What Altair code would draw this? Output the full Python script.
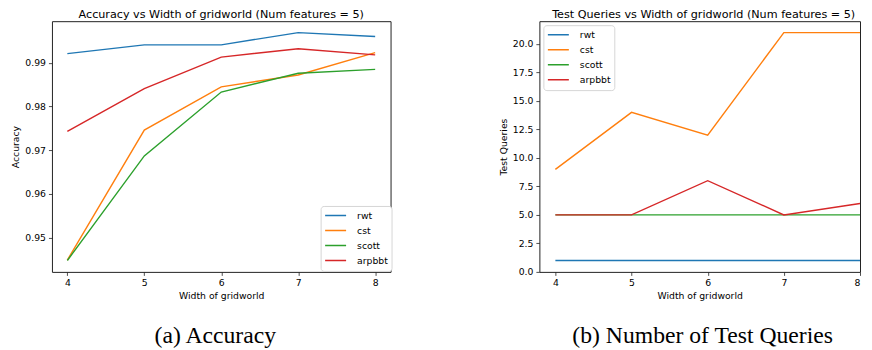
import altair as alt
import pandas as pd

widths = [4, 5, 6, 7, 8]
series = ["rwt", "cst", "scott", "arpbbt"]
colors = ["#1f77b4", "#ff7f0e", "#2ca02c", "#d62728"]

acc_rwt = [0.9921, 0.9941, 0.9941, 0.9969, 0.9960]
acc_cst = [0.9449, 0.9746, 0.9845, 0.9872, 0.9923]
acc_scott = [0.9448, 0.9687, 0.9833, 0.9876, 0.9885]
acc_arpbbt = [0.9743, 0.9841, 0.9913, 0.9932, 0.9918]

tq_rwt = [1, 1, 1, 1, 1]
tq_cst = [9, 14, 12, 21, 21]
tq_scott = [5, 5, 5, 5, 5]
tq_arpbbt = [5, 5, 8, 5, 6]

acc_ticks = [0.95, 0.96, 0.97, 0.98, 0.99]
tq_ticks = [0, 2.5, 5, 7.5, 10, 12.5, 15, 17.5, 20]

def long(vals_list):
    rows = []
    for name, vals in zip(series, vals_list):
        for w, v in zip(widths, vals):
            rows.append({"width": w, "value": v, "series": name})
    return pd.DataFrame(rows)

acc_df = long([acc_rwt, acc_cst, acc_scott, acc_arpbbt])
tq_df = long([tq_rwt, tq_cst, tq_scott, tq_arpbbt])

def padded(vals):
    lo, hi = min(vals), max(vals)
    m = (hi - lo) * 0.05
    return [lo - m, hi + m]

x_dom_left = padded(widths)
# right panel is cropped at the page edge in the reference
x_dom_right = [3.79, 8.0]
acc_dom = padded(acc_df["value"].tolist())
tq_dom = padded(tq_df["value"].tolist())

H = 251

def panel(df, xdom, w, ydom, yticks, yfmt, ytitle, title, tdx, caption, lx, ly):
    legend = alt.Legend(
        title=None, orient="none", legendX=lx, legendY=ly,
        symbolType="stroke", symbolSize=441, symbolStrokeWidth=1.5,
        labelFontSize=9.3, labelColor="#000", labelOffset=10,
        clipHeight=12.3, rowPadding=2, padding=3.5,
        strokeColor="#d6d6d6", fillColor="white", cornerRadius=3,
    )
    lines = alt.Chart(df).mark_line(strokeWidth=1.4).encode(
        x=alt.X("width:Q", title="Width of gridworld",
                scale=alt.Scale(domain=xdom, nice=False, zero=False),
                axis=alt.Axis(values=widths, format="d")),
        y=alt.Y("value:Q", title=ytitle,
                scale=alt.Scale(domain=ydom, nice=False, zero=False),
                axis=alt.Axis(values=yticks, format=yfmt)),
        color=alt.Color("series:N", scale=alt.Scale(domain=series, range=colors),
                        sort=series, legend=legend),
        order=alt.Order("width:Q"),
    )
    cap = alt.Chart(pd.DataFrame({"caption": [caption]})).mark_text(
        font="Liberation Serif", fontSize=23.7, color="#000",
        baseline="alphabetic", align="center",
    ).encode(text="caption:N", x=alt.value(163.5), y=alt.value(322))
    return alt.layer(lines, cap).properties(
        width=w, height=H,
        title=alt.TitleParams(title, fontSize=11.2, font="DejaVu Sans",
                              fontWeight="normal", color="#000", offset=1,
                              dx=tdx),
    )

left = panel(acc_df, x_dom_left, 339, acc_dom, acc_ticks, ".2f", "Accuracy",
             "Accuracy vs Width of gridworld (Num features = 5)", 0,
             "(a) Accuracy", 269, 185)
right = panel(tq_df, x_dom_right, 321, tq_dom, tq_ticks, ".1f", "Test Queries",
              "Test Queries vs Width of gridworld (Num features = 5)", 4,
              "(b) Number of Test Queries", 4, 4)

chart = alt.hconcat(left, right, spacing=149, bounds="flush").resolve_legend(
    color="independent"
).properties(padding={"left": 3, "top": 0, "right": 0, "bottom": 0}).configure(
    font="DejaVu Sans",
).configure_view(
    stroke="#222", strokeWidth=1,
).configure_axis(
    domain=False, grid=False, tickSize=3.5, tickWidth=0.8, tickColor="#222",
    labelFontSize=9.3, titleFontSize=9.3, labelColor="#000", titleColor="#000",
    titleFontWeight="normal", labelPadding=3, titlePadding=4,
    labelFont="DejaVu Sans", titleFont="DejaVu Sans",
)

chart.save("out.html", embed_options={"renderer": "svg", "actions": False})
